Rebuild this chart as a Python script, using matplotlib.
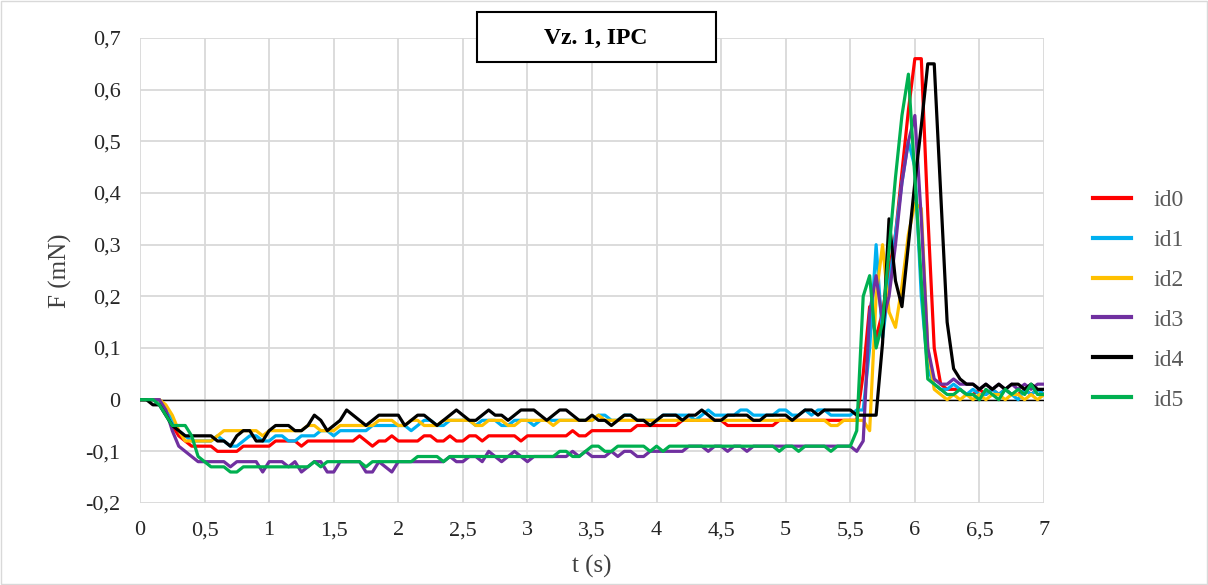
import numpy as np
import matplotlib
matplotlib.use("Agg")
import matplotlib.pyplot as plt
from matplotlib.ticker import FuncFormatter, MultipleLocator
import matplotlib.patches as mpatches

# cas (s), krok 0,05 s
t = np.arange(141) * 0.05

# sily v setinach mN
id0 = [0, 0, 0, 0, -2, -5, -7, -8, -9, -9,
       -9, -9, -10, -10, -10, -10, -9, -9, -9, -9,
       -9, -8, -8, -8, -8, -9, -8, -8, -8, -8,
       -8, -8, -8, -8, -7, -8, -9, -8, -8, -7,
       -8, -8, -8, -8, -7, -7, -8, -8, -7, -8,
       -8, -7, -7, -8, -7, -7, -7, -7, -7, -8,
       -7, -7, -7, -7, -7, -7, -7, -6, -7, -7,
       -6, -6, -6, -6, -6, -6, -6, -5, -5, -5,
       -5, -5, -5, -5, -4, -4, -4, -4, -4, -4,
       -4, -5, -5, -5, -5, -5, -5, -5, -5, -4,
       -4, -4, -4, -4, -4, -4, -4, -4, -4, -4,
       -4, -4, 5, 18, 12, 17, 25, 32, 44, 56,
       66, 66, 36, 10, 3, 2, 2, 2, 1, 1,
       2, 1, 2, 1, 2, 1, 1, 2, 1, 2, 1]
id1 = [0, 0, 0, 0, -2, -4, -6, -7, -8, -8,
       -8, -8, -7, -8, -9, -9, -8, -7, -7, -8,
       -8, -7, -7, -8, -8, -7, -7, -7, -6, -6,
       -7, -6, -6, -6, -6, -6, -5, -5, -5, -5,
       -5, -5, -6, -5, -4, -4, -5, -5, -4, -4,
       -4, -4, -5, -4, -4, -4, -5, -5, -4, -4,
       -4, -5, -4, -4, -4, -4, -4, -4, -4, -4,
       -4, -3, -3, -4, -4, -3, -3, -4, -4, -4,
       -4, -3, -3, -3, -3, -3, -4, -3, -2, -3,
       -3, -3, -3, -2, -2, -3, -3, -3, -3, -2,
       -2, -3, -3, -2, -3, -2, -2, -3, -3, -3,
       -3, -2, -2, 10, 30, 12, 22, 32, 42, 50,
       45, 20, 6, 3, 2, 2, 3, 2, 1, 2,
       1, 1, 2, 1, 2, 1, 0, 2, 1, 2, 1]
id2 = [0, 0, 0, 0, -1, -3, -6, -8, -8, -8,
       -8, -8, -7, -6, -6, -6, -6, -6, -6, -7,
       -6, -6, -6, -6, -6, -6, -5, -5, -6, -6,
       -6, -5, -5, -5, -5, -5, -5, -4, -4, -4,
       -5, -5, -4, -4, -5, -5, -5, -4, -4, -4,
       -4, -4, -5, -5, -4, -4, -4, -5, -5, -4,
       -4, -4, -4, -4, -5, -4, -4, -4, -4, -4,
       -4, -3, -4, -4, -4, -4, -4, -4, -4, -4,
       -4, -4, -4, -4, -4, -4, -4, -4, -4, -4,
       -4, -4, -4, -4, -4, -4, -4, -4, -4, -4,
       -4, -4, -4, -4, -4, -4, -4, -5, -5, -4,
       -4, -4, -4, -6, 20, 30, 17, 14, 22, 32,
       38, 37, 10, 2, 1, 0, 1, 0, 1, 0,
       1, 0, 1, 1, 0, 1, 1, 0, 1, 0, 1]
id3 = [0, 0, 0, 0, -2, -6, -9, -10, -11, -12,
       -12, -12, -12, -12, -13, -12, -12, -12, -12, -14,
       -12, -12, -12, -13, -12, -14, -13, -12, -12, -14,
       -14, -12, -12, -12, -12, -14, -14, -12, -13, -14,
       -12, -12, -12, -12, -12, -12, -12, -12, -11, -12,
       -12, -11, -11, -12, -10, -11, -12, -11, -10, -11,
       -12, -11, -11, -11, -11, -11, -11, -10, -11, -10,
       -11, -11, -11, -10, -11, -10, -10, -11, -11, -10,
       -10, -10, -10, -10, -10, -9, -9, -9, -10, -9,
       -9, -10, -9, -9, -10, -9, -9, -9, -9, -9,
       -9, -9, -9, -9, -9, -9, -9, -9, -9, -9,
       -9, -10, -8, 17, 24, 15, 20, 30, 42, 50,
       55, 35, 10, 4, 3, 3, 4, 3, 3, 3,
       2, 3, 2, 3, 2, 3, 2, 3, 2, 3, 3]
id4 = [0, 0, -1, -1, -3, -5, -6, -7, -7, -7,
       -7, -7, -8, -8, -9, -7, -6, -6, -8, -8,
       -6, -5, -5, -5, -6, -6, -5, -3, -4, -6,
       -5, -4, -2, -3, -4, -5, -4, -3, -3, -3,
       -3, -5, -4, -3, -3, -4, -5, -4, -3, -2,
       -3, -4, -4, -3, -2, -3, -3, -4, -3, -2,
       -2, -2, -3, -4, -3, -2, -2, -3, -4, -4,
       -3, -4, -4, -5, -4, -3, -3, -4, -4, -5,
       -4, -3, -3, -3, -4, -3, -3, -2, -3, -4,
       -4, -3, -3, -3, -3, -4, -4, -3, -3, -3,
       -3, -4, -3, -2, -2, -3, -2, -2, -2, -2,
       -2, -3, -3, -3, -3, 11, 35, 23, 18, 30,
       42, 53, 65, 65, 40, 15, 6, 4, 3, 3,
       2, 3, 2, 3, 2, 3, 3, 2, 3, 2, 2]
id5 = [0, 0, 0, -1, -3, -5, -5, -5, -7, -11,
       -12, -13, -13, -13, -14, -14, -13, -13, -13, -13,
       -13, -13, -13, -13, -13, -13, -13, -12, -13, -12,
       -12, -12, -12, -12, -12, -13, -12, -12, -12, -12,
       -12, -12, -12, -11, -11, -11, -11, -12, -11, -11,
       -11, -11, -11, -11, -11, -11, -11, -11, -11, -11,
       -11, -11, -11, -11, -11, -10, -10, -11, -11, -10,
       -9, -9, -10, -10, -9, -9, -9, -9, -9, -10,
       -9, -10, -9, -9, -9, -9, -9, -9, -9, -9,
       -9, -9, -9, -9, -9, -9, -9, -9, -9, -10,
       -9, -9, -10, -9, -9, -9, -9, -10, -9, -9,
       -9, -6, 20, 24, 10, 15, 29, 43, 55, 63,
       43, 23, 4, 3, 2, 1, 1, 2, 1, 1,
       0, 2, 1, 0, 2, 1, 2, 1, 3, 1, 1]

names = ["id0", "id1", "id2", "id3", "id4", "id5"]
series = [id0, id1, id2, id3, id4, id5]
colors = ["#FF0000", "#00B0F0", "#FFC000", "#7030A0", "#000000", "#00B050"]

plt.rcParams['font.family'] = ['Liberation Serif', 'DejaVu Serif']

fig = plt.figure(figsize=(12.08, 5.85), dpi=100)
ax = fig.add_axes([140/1208, 1 - 503/585, 904/1208, 465/585])

for name, vals, col in zip(names, series, colors):
    ax.plot(t, np.array(vals) / 100.0, color=col, lw=2.3, label=name, zorder=3)

ax.axhline(0, color='black', lw=1.0, zorder=2)

ax.set_xlim(0, 7)
ax.set_ylim(-0.2, 0.7)
ax.xaxis.set_major_locator(MultipleLocator(0.5))
ax.yaxis.set_major_locator(MultipleLocator(0.1))

def carka(v, pos):
    s = f"{v:.1f}".rstrip('0').rstrip('.')
    if s in ("-0", ""):
        s = "0"
    return s.replace('.', ',')

ax.xaxis.set_major_formatter(FuncFormatter(carka))
ax.yaxis.set_major_formatter(FuncFormatter(carka))
ax.grid(True, color='#D9D9D9', lw=1.3)
ax.set_axisbelow(True)
for s in ax.spines.values():
    s.set_visible(False)
ax.tick_params(length=0, labelsize=16, colors='#262626')
ax.tick_params(axis='x', pad=13)
ax.tick_params(axis='y', pad=14)
ax.set_xlabel("t (s)", fontsize=18, color='#404040', labelpad=11)
ax.set_ylabel("F (mN)", fontsize=18, color='#404040', labelpad=10)

leg = ax.legend(loc='center left', bbox_to_anchor=(1072/1208, 1 - 300/585), bbox_transform=fig.transFigure,
                frameon=False, fontsize=17, handlelength=1.6, labelspacing=0.78, handletextpad=0.95)
for line in leg.get_lines():
    line.set_linewidth(3)
for txt in leg.get_texts():
    txt.set_color('#595959')

# ramecek s nazvem
fig.patches.append(mpatches.Rectangle((477/1208, 1 - 62/585), 239/1208, 50/585,
                                      transform=fig.transFigure, facecolor='white',
                                      edgecolor='black', lw=1.5, zorder=5))
fig.text(596/1208, 1 - 38/585, "Vz. 1, IPC", ha='center', va='center',
         fontsize=17, fontweight='bold', zorder=6)
fig.patches.append(mpatches.Rectangle((0.001, 0.001), 0.998, 0.997, transform=fig.transFigure,
                                      fill=False, edgecolor='#D9D9D9', lw=1))

plt.savefig("out.png", dpi=100)
